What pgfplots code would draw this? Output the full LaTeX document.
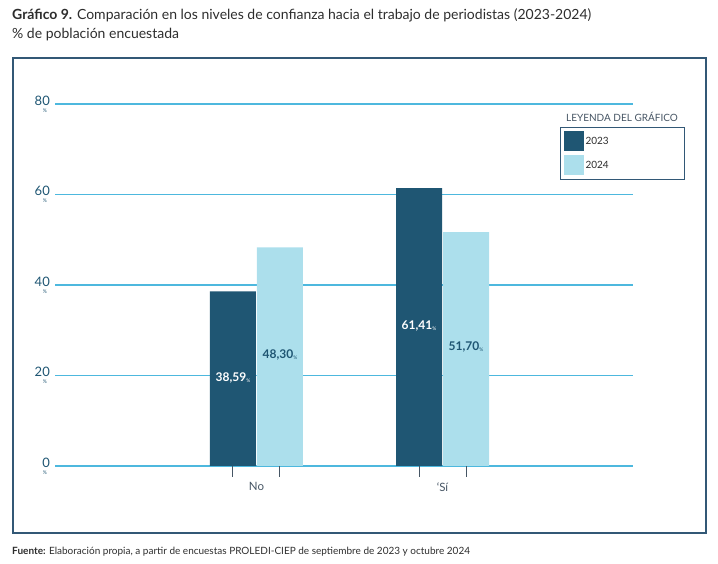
\documentclass[border=0pt]{standalone}
\usepackage{pgfplots}
\pgfplotsset{compat=1.18}
\usepackage{fontspec}
\setmainfont{Lato}
\definecolor{dark}{RGB}{31,86,115}
\definecolor{light}{RGB}{172,223,236}
\definecolor{gridc}{RGB}{77,184,222}
\definecolor{framec}{RGB}{50,88,118}
\definecolor{txt}{RGB}{45,45,45}
\definecolor{tickc}{RGB}{70,85,100}
\begin{document}
\begin{tikzpicture}[x=1pt,y=1pt]
\useasboundingbox (0pt,0pt) rectangle (718pt,564pt);
\draw[framec, line width=1.3pt] (13pt,31pt) rectangle (706pt,506pt);
\node[anchor=base west, inner sep=0, text=txt, font=\fontsize{14}{16}\selectfont] at (12pt,544pt) {\textbf{Gráfico 9.} Comparación en los niveles de confianza hacia el trabajo de periodistas (2023-2024)};
\node[anchor=base west, inner sep=0, text=txt, font=\fontsize{14}{16}\selectfont] at (12pt,525pt) {\% de población encuestada};
\node[anchor=base west, inner sep=0, text=txt, font=\fontsize{10}{12}\selectfont] at (12pt,9pt) {\textbf{Fuente:} Elaboración propia, a partir de encuestas PROLEDI-CIEP de septiembre de 2023 y octubre 2024};
\begin{axis}[
  at={(55pt,98pt)}, anchor=south west,
  scale only axis, width=578pt, height=362pt,
  xmin=-1.083, xmax=2.024, ymin=0, ymax=80,
  ytick={0,20,40,60,80},
  axis line style={draw=none},
  ymajorgrids, grid style={gridc, line width=1.2pt},
  major tick length=0pt,
  xtick pos=lower, ytick pos=left,
  /pgf/number format/assume math mode=true,
  yticklabel style={anchor=east, inner sep=0pt, xshift=-5pt, text=dark, font=\fontsize{13}{13}\selectfont},
  yticklabel={\pgfmathprintnumber{\tick}\llap{\raisebox{-7pt}{\fontsize{5}{5}\selectfont\%}\kern3pt}},
  xtick={0,1}, xticklabels={No,‘Sí},
  xticklabel style={text=tickc, font=\fontsize{11.5}{11.5}\selectfont, yshift=-13pt},
  extra x ticks={-0.1263,0.1263,0.8737,1.1263},
  extra x tick labels={},
  extra x tick style={major tick length=11pt, tick align=outside, grid=none, tick style={draw=tickc, line width=1pt}},
  ybar, bar width=46pt,
  mylegend/.style={legend image code/.code={\fill[##1] (0pt,-10pt) rectangle (20pt,10pt);}},
  legend style={at={(0.8737,0.9365)}, anchor=north west, draw=framec, line width=1pt,
    font=\fontsize{10}{12}\selectfont, text=txt, inner xsep=3pt, inner ysep=4pt, row sep=4pt,
    legend cell align=left},
]
\addplot[fill=dark, draw=none, bar shift=-23.5pt, mylegend] coordinates {(0,38.59) (1,61.41)};
\addlegendentry{2023\hspace*{71pt}}
\addplot[fill=light, draw=none, bar shift=23.5pt, mylegend] coordinates {(0,48.30) (1,51.70)};
\addlegendentry{2024}
\addplot[forget plot, draw=none, fill=none, bar shift=-23.5pt,
  nodes near coords={\textbf{\pgfplotspointmeta}\raisebox{-1pt}{\fontsize{5}{5}\selectfont\%}},
  point meta=explicit symbolic,
  every node near coord/.append style={anchor=center, text=white, font=\fontsize{12}{12}\selectfont, yshift=1pt}]
  coordinates {(0,19.295)[{38,59}] (1,30.705)[{61,41}]};
\addplot[forget plot, draw=none, fill=none, bar shift=23.5pt,
  nodes near coords={\textbf{\pgfplotspointmeta}\raisebox{-1pt}{\fontsize{5}{5}\selectfont\%}},
  point meta=explicit symbolic,
  every node near coord/.append style={anchor=center, text=dark, font=\fontsize{12}{12}\selectfont, yshift=2pt}]
  coordinates {(0,24.15)[{48,30}] (1,25.85)[{51,70}]};
\end{axis}
\node[text=tickc, font=\fontsize{10}{12}\selectfont, inner sep=0] at (622pt,447pt) {LEYENDA DEL GRÁFICO};
\end{tikzpicture}
\end{document}
